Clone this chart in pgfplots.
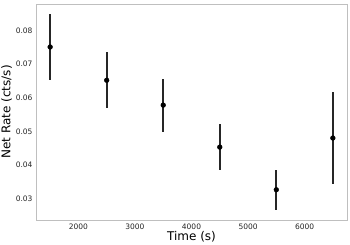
\documentclass[border=0pt]{standalone}
\usepackage{fontspec}
\setmainfont{DejaVu Sans}
\usepackage{pgfplots}
\pgfplotsset{compat=1.18}
\begin{document}
\begin{tikzpicture}
\begin{axis}[
  scale only axis,
  width=311bp, height=216bp,
  xmin=1250, xmax=6750,
  ymin=0.0236, ymax=0.0879,
  xtick={2000,3000,4000,5000,6000},
  ytick={0.03,0.04,0.05,0.06,0.07,0.08},
  yticklabel style={/pgf/number format/fixed,/pgf/number format/precision=2,/pgf/number format/fixed zerofill},
  xticklabel style={/pgf/number format/1000 sep={}},
  /pgf/number format/assume math mode=true,
  tick style={draw=none},
  tick label style={font=\fontsize{7.5bp}{9bp}\selectfont, text=black!85},
  axis line style={draw=black!25, line width=0.8pt},
  xlabel={Time (s)}, ylabel={Net Rate (cts/s)},
  label style={font=\fontsize{12bp}{14bp}\selectfont},
  xlabel style={yshift=4.5bp},
  ylabel style={yshift=-3bp},
  scaled y ticks=false,
]
\addplot[only marks, mark=*, mark size=2.4bp, black,
  error bars/.cd, y dir=both, y explicit, error bar style={line width=1.9bp, black!85}, error mark=none]
  table[x=x, y=y, y error=e] {
x y e
1500 0.0751 0.0099
2500 0.0652 0.0083
3500 0.0578 0.0079
4500 0.0453 0.0069
5500 0.0326 0.0059
6500 0.0480 0.0138
};
\end{axis}
\pgfresetboundingbox
\path[use as bounding box] (-36bp,-25bp) rectangle (314bp,220bp);
\end{tikzpicture}
\end{document}
